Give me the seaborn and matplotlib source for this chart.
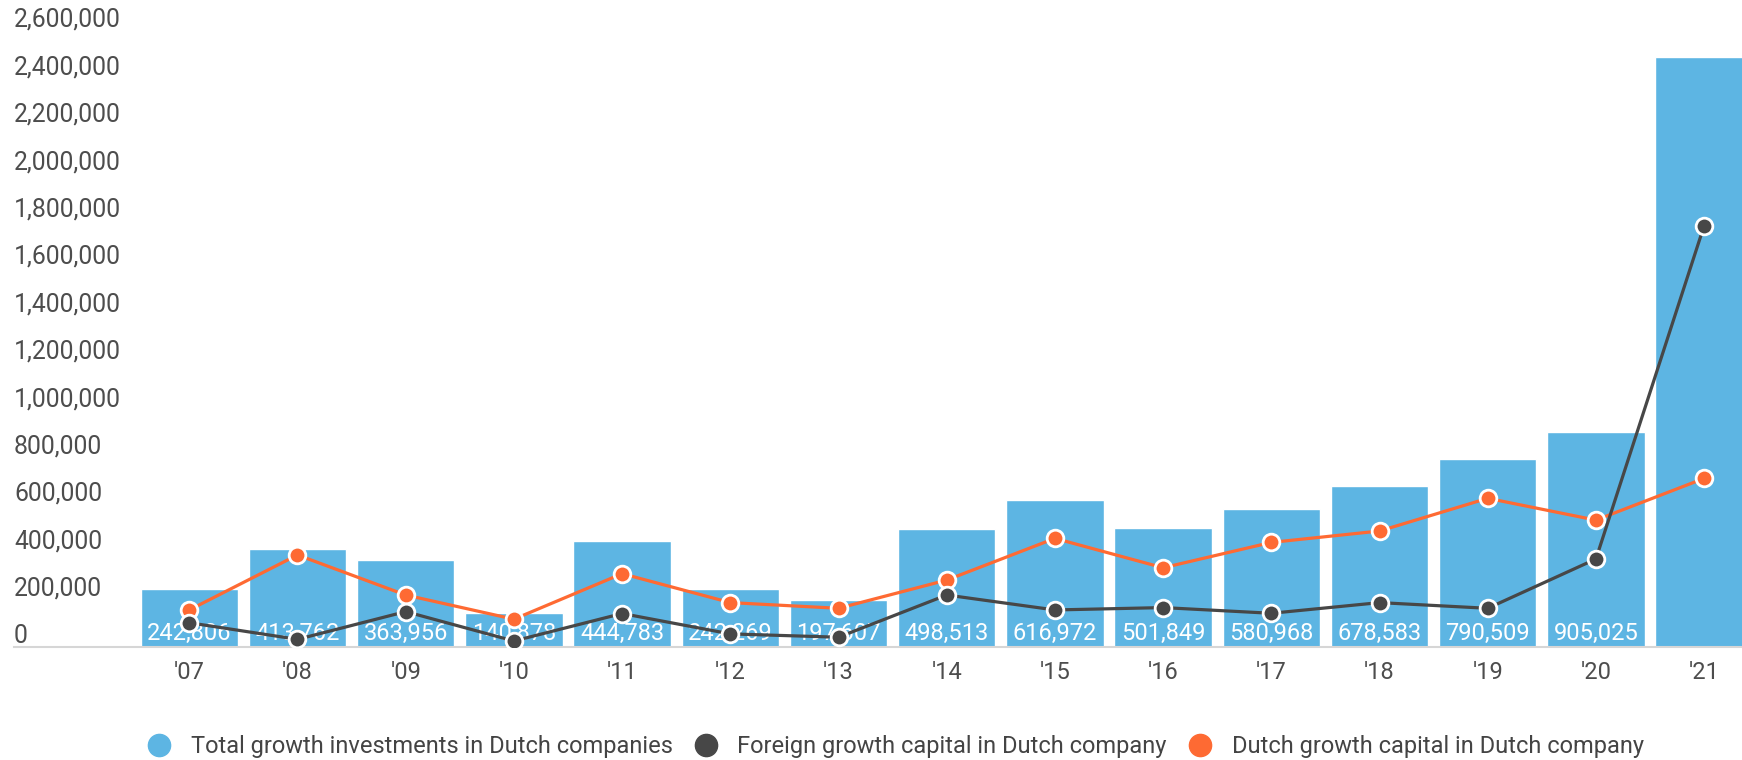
import numpy as np
import pandas as pd
import matplotlib
matplotlib.use("Agg")
import matplotlib.pyplot as plt
from matplotlib.lines import Line2D
import seaborn as sns

# datos
years = ["'07", "'08", "'09", "'10", "'11", "'12", "'13", "'14",
         "'15", "'16", "'17", "'18", "'19", "'20", "'21"]
total = [242806, 413762, 363956, 140878, 444783, 242269, 197607, 498513,
         616972, 501849, 580968, 678583, 790509, 905025, 2486000]
foreign = [101000, 31000, 148000, 24000, 140000, 54000, 40000, 218000,
           155000, 165000, 141000, 186000, 162000, 370000, 1776000]
dutch = [155000, 387000, 218000, 116000, 308000, 186000, 162000, 281000,
         457000, 333000, 440000, 488000, 626000, 534000, 710000]
y_ticks = [0, 200000, 400000, 600000, 800000, 1000000, 1200000, 1400000,
           1600000, 1800000, 2000000, 2200000, 2400000, 2600000]
series_names = ["Total growth investments in Dutch companies",
                "Foreign growth capital in Dutch company",
                "Dutch growth capital in Dutch company"]

BLUE = "#5db5e3"
DARK = "#474747"
ORANGE = "#fe6a33"
TXT = "#4d4d4d"

sns.set_theme(style="white")
plt.rcParams["font.family"] = ["Roboto", "DejaVu Sans"]

df = pd.DataFrame({"year": years, "pos": np.arange(len(years)),
                   "total": total, "foreign": foreign, "dutch": dutch})

fig = plt.figure(figsize=(17.42, 7.6), dpi=100)
ax = fig.add_axes([14 / 1742, 113.3 / 760, 1 - 14 / 1742, 646.7 / 760])

sns.barplot(data=df, x="year", y="total", color=BLUE, width=0.9,
            saturation=1, ax=ax, zorder=1)

# etiquetas dentro de las barras (la ultima queda cortada)
for i in range(len(years) - 1):
    ax.annotate(f"{total[i]:,}", xy=(i, 0), xytext=(0, 9.3),
                textcoords="offset points", ha="center", va="center",
                color="white", fontsize=17, zorder=2)

sns.lineplot(data=df, x="pos", y="dutch", color=ORANGE, lw=2.3,
             marker="o", markersize=12, markeredgecolor="white",
             markeredgewidth=2, ax=ax, zorder=3)
sns.lineplot(data=df, x="pos", y="foreign", color=DARK, lw=2.3,
             marker="o", markersize=12, markeredgecolor="white",
             markeredgewidth=2, ax=ax, zorder=4)

ax.set_xlim(-1.62, 14.35)
ax.set_ylim(0, 2728000)
ax.set_xlabel("")
ax.set_ylabel("")
ax.set_xticks(range(len(years)))
ax.set_xticklabels(years, fontsize=17, color=TXT)
ax.tick_params(axis="x", length=0, pad=10.5)
ax.set_yticks([])

# etiquetas del eje y encima de la linea
for v in y_ticks:
    ax.annotate(f"{v:,}", xy=(0, v), xycoords=("axes fraction", "data"),
                xytext=(0, 7.6), textcoords="offset points",
                ha="left", va="center", fontsize=17.8, color=TXT)

for s in ["top", "right", "left"]:
    ax.spines[s].set_visible(False)
ax.spines["bottom"].set_color("#d6d6d6")
ax.spines["bottom"].set_linewidth(1.5)

handles = [Line2D([], [], ls="", marker="o", markersize=16, color=c)
           for c in [BLUE, DARK, ORANGE]]
fig.legend(handles, series_names, loc="center", bbox_to_anchor=(0.514, 0.018),
           ncol=3, frameon=False, fontsize=17, handlelength=1,
           handletextpad=0.85, columnspacing=0.9, labelcolor="#444444")

fig.savefig("out.png", dpi=100)
